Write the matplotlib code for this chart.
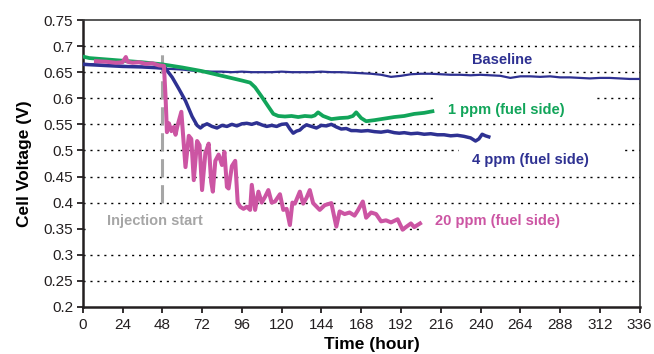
import matplotlib
matplotlib.use("Agg")
import matplotlib.pyplot as plt
from matplotlib.patches import Rectangle
from matplotlib.ticker import FuncFormatter

plt.rcParams['font.family'] = ['Liberation Sans', 'DejaVu Sans']

# baseline run (no contaminant)
base_t = [0, 6, 12, 18, 24, 30, 36, 42, 48, 54, 60, 66, 72, 78, 84, 90, 96, 102, 108,
          114, 120, 126, 132, 138, 144, 150, 156, 162, 168, 174, 180, 186, 192, 198,
          204, 210, 216, 222, 228, 234, 240, 246, 252, 258, 264, 270, 276, 282, 288,
          294, 300, 306, 312, 318, 324, 330, 336]
base_v = [0.666, 0.665, 0.664, 0.663, 0.662, 0.661, 0.660, 0.659, 0.657, 0.656, 0.655,
          0.653, 0.652, 0.651, 0.651, 0.650, 0.651, 0.650, 0.650, 0.650, 0.651, 0.650,
          0.650, 0.650, 0.651, 0.650, 0.650, 0.649, 0.648, 0.647, 0.645, 0.641, 0.643,
          0.646, 0.647, 0.647, 0.646, 0.645, 0.645, 0.644, 0.645, 0.644, 0.643, 0.639,
          0.642, 0.642, 0.641, 0.642, 0.640, 0.640, 0.639, 0.638, 0.639, 0.639, 0.638,
          0.637, 0.637]

# 1 ppm on fuel side
p1_t = [0, 4, 12, 24, 36, 48, 60, 72, 84, 96, 101, 104, 108, 112, 115, 118, 122, 126,
        130, 134, 138, 140, 142, 145, 150, 155, 160, 163, 165, 168, 171, 176, 182, 188,
        194, 200, 206, 211]
p1_v = [0.680, 0.677, 0.675, 0.672, 0.669, 0.665, 0.659, 0.652, 0.643, 0.634, 0.630,
        0.621, 0.603, 0.584, 0.570, 0.566, 0.565, 0.566, 0.564, 0.566, 0.565, 0.567,
        0.573, 0.566, 0.560, 0.562, 0.563, 0.566, 0.573, 0.562, 0.556, 0.558, 0.561,
        0.564, 0.566, 0.570, 0.572, 0.575]

# 4 ppm on fuel side
p4_t = [0, 12, 24, 36, 48, 50, 54, 58, 62, 66, 69, 71, 73, 75, 78, 81, 84, 87, 90, 93,
        96, 99, 102, 105, 108, 111, 114, 117, 120, 123, 125, 127, 129, 131, 133, 135,
        138, 141, 144, 147, 150, 153, 156, 159, 162, 165, 168, 172, 176, 180, 184, 188,
        191, 194, 198, 202, 206, 210, 214, 218, 222, 226, 230, 234, 237, 239, 241, 243,
        245]
p4_v = [0.665, 0.663, 0.661, 0.660, 0.658, 0.657, 0.640, 0.618, 0.595, 0.565, 0.548,
        0.543, 0.548, 0.551, 0.546, 0.543, 0.548, 0.546, 0.550, 0.547, 0.551, 0.552,
        0.550, 0.553, 0.549, 0.546, 0.548, 0.546, 0.550, 0.551, 0.541, 0.533, 0.537,
        0.539, 0.545, 0.549, 0.546, 0.543, 0.548, 0.547, 0.550, 0.545, 0.541, 0.542,
        0.538, 0.538, 0.537, 0.538, 0.536, 0.535, 0.537, 0.534, 0.533, 0.534, 0.532,
        0.533, 0.531, 0.532, 0.530, 0.530, 0.528, 0.529, 0.527, 0.524, 0.518, 0.522,
        0.531, 0.528, 0.526]

# 20 ppm on fuel side
p20_t = [8, 14, 20, 24, 26, 27, 30, 34, 38, 42, 46, 49, 50, 50.8, 52, 53.5, 55, 56, 57,
         59.5, 62, 64, 65.5, 67, 69, 70.5, 72, 74, 76, 77.5, 78.5, 80, 82, 84, 85.5, 87,
         88, 90, 92, 93.5, 95, 97, 99, 101, 102, 104, 106, 108, 110, 112, 114, 116, 119,
         121, 123, 125, 126.5, 128, 131, 133, 135, 137, 139, 143, 146, 150, 153, 155,
         158, 161, 164, 166, 169, 171, 174, 177, 180, 183, 186, 190, 193, 195, 198, 200,
         203.5]
p20_v = [0.671, 0.670, 0.668, 0.669, 0.679, 0.670, 0.668, 0.669, 0.666, 0.667, 0.663,
         0.662, 0.600, 0.535, 0.552, 0.537, 0.545, 0.530, 0.545, 0.574, 0.468, 0.528,
         0.522, 0.443, 0.518, 0.510, 0.424, 0.495, 0.513, 0.440, 0.421, 0.480, 0.492,
         0.472, 0.497, 0.430, 0.427, 0.470, 0.480, 0.400, 0.392, 0.388, 0.392, 0.386,
         0.434, 0.386, 0.421, 0.400, 0.411, 0.424, 0.400, 0.402, 0.416, 0.386, 0.388,
         0.357, 0.400, 0.398, 0.421, 0.398, 0.409, 0.424, 0.399, 0.386, 0.395, 0.399,
         0.354, 0.383, 0.378, 0.381, 0.375, 0.385, 0.402, 0.371, 0.381, 0.378, 0.364,
         0.366, 0.362, 0.368, 0.348, 0.353, 0.360, 0.353, 0.360]

inject_t = 48
x_ticks = list(range(0, 337, 24))

navy = '#2e3192'
green = '#12a55a'
pink = '#cc55a3'
grey = '#a6a6a6'

fig = plt.figure(figsize=(6.54, 3.54), dpi=100)
ax = fig.add_axes([0.1265, 0.133, 0.8515, 0.8105])

ax.set_xlim(0, 336)
ax.set_ylim(0.2, 0.75)
ax.set_xticks(x_ticks)
ax.set_yticks([0.2 + 0.05 * i for i in range(12)])
ax.yaxis.set_major_formatter(FuncFormatter(lambda v, p: ('%.2f' % v).rstrip('0')))

# dotted horizontal guides
for i in range(1, 11):
    ax.axhline(0.2 + 0.05 * i, color='black', lw=1.0, ls=(0, (1.5, 3.5)), zorder=0.5)

# white label panels that break the guides
for x0, x1, yc in [(4.5, 81.6, 0.35), (203.5, 336, 0.35),
                   (213.6, 309.6, 0.60), (226.8, 326.3, 0.50)]:
    ax.add_patch(Rectangle((x0, yc - 0.008), x1 - x0, 0.016, facecolor='white',
                           edgecolor='none', zorder=1))

ax.plot(base_t, base_v, color=navy, lw=1.6, zorder=3)
ax.plot(p1_t, p1_v, color=green, lw=2.7, zorder=3)
ax.plot(p4_t, p4_v, color=navy, lw=2.5, zorder=3)
ax.plot(p20_t, p20_v, color=pink, lw=2.9, zorder=3)

ax.plot([inject_t, inject_t], [0.40, 0.70], color=grey, lw=2.2, ls=(0, (6, 2.5)), zorder=2)

txt = dict(fontsize=10.5, fontweight='bold', va='center', zorder=4)
ax.text(234.6, 0.673, 'Baseline', color=navy, **txt)
ax.text(220.3, 0.578, '1 ppm (fuel side)', color=green, **txt)
ax.text(234.9, 0.482, '4 ppm (fuel side)', color=navy, **txt)
ax.text(212.4, 0.364, '20 ppm (fuel side)', color=pink, **txt)
ax.text(43.6, 0.365, 'Injection start', color=grey, ha='center', **txt)

for side in ['left', 'bottom']:
    ax.spines[side].set_linewidth(1.8)
    ax.spines[side].set_color('#231f20')
for side in ['top', 'right']:
    ax.spines[side].set_linewidth(1.2)
    ax.spines[side].set_color('#3a3a3a')

ax.tick_params(axis='both', direction='out', length=4, width=1.3, labelsize=11,
               colors='#231f20')
ax.tick_params(axis='x', pad=4)
ax.tick_params(axis='y', pad=3)
ax.set_xlabel('Time (hour)', fontsize=12.5, fontweight='bold')
ax.xaxis.set_label_coords(0.52, -0.105)
ax.set_ylabel('Cell Voltage (V)', fontsize=12.5, fontweight='bold', labelpad=8)

fig.savefig('out.png', dpi=100)
